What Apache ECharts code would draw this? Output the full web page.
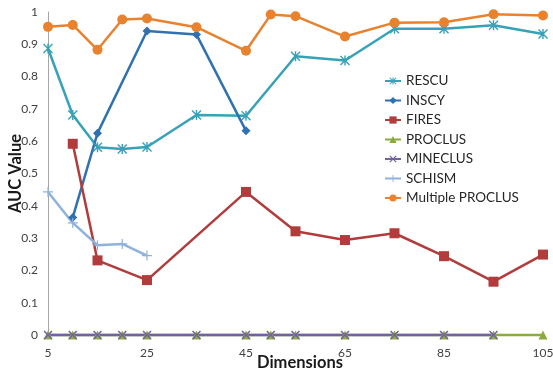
<!DOCTYPE html>
<html>
<head>
<meta charset="utf-8">
<script src="https://cdn.jsdelivr.net/npm/echarts@6/dist/echarts.min.js"></script>
<style>html,body{margin:0;padding:0;background:#fff;}#c{width:553px;height:371px;}</style>
</head>
<body>
<div id="c"></div>
<script>
const xTicks = [5, 25, 45, 65, 85, 105];
const yTicks = [0, 0.1, 0.2, 0.3, 0.4, 0.5, 0.6, 0.7, 0.8, 0.9, 1];

const rescuX = [5, 10, 15, 20, 25, 35, 45, 55, 65, 75, 85, 95, 105];
const rescuY = [0.887, 0.681, 0.581, 0.576, 0.582, 0.681, 0.679, 0.863, 0.850, 0.948, 0.948, 0.959, 0.932];

const inscyX = [10, 15, 25, 35, 45];
const inscyY = [0.364, 0.625, 0.941, 0.930, 0.632];

const firesX = [10, 15, 25, 45, 55, 65, 75, 85, 95, 105];
const firesY = [0.592, 0.231, 0.170, 0.443, 0.321, 0.294, 0.315, 0.244, 0.165, 0.249];

const proclusX = [5, 10, 15, 20, 25, 35, 45, 50, 55, 65, 75, 85, 95, 105];
const proclusY = [0, 0, 0, 0, 0, 0, 0, 0, 0, 0, 0, 0, 0, 0];

const mineclusX = [5, 10, 15, 20, 25, 35, 45, 50, 55, 65, 75, 85, 95];
const mineclusY = [0, 0, 0, 0, 0, 0, 0, 0, 0, 0, 0, 0, 0];

const schismX = [5, 10, 15, 20, 25];
const schismY = [0.443, 0.347, 0.278, 0.282, 0.246];

const multiX = [5, 10, 15, 20, 25, 35, 45, 50, 55, 65, 75, 85, 95, 105];
const multiY = [0.954, 0.960, 0.883, 0.977, 0.980, 0.953, 0.880, 0.992, 0.987, 0.924, 0.967, 0.968, 0.993, 0.989];

const pair = (xs, ys) => xs.map((x, i) => [x, ys[i]]);

const STAR = 'path://M0,1 L1,0 L5,4 L9,0 L10,1 L6,5 L10,9 L9,10 L5,6 L1,10 L0,9 L4,5 Z M4.3,0 L5.7,0 L5.7,10 L4.3,10 Z';
const XMARK = 'path://M0,1.2 L1.2,0 L5,3.8 L8.8,0 L10,1.2 L6.2,5 L10,8.8 L8.8,10 L5,6.2 L1.2,10 L0,8.8 L3.8,5 Z';
const PLUS = 'path://M4.4,0 L5.6,0 L5.6,4.4 L10,4.4 L10,5.6 L5.6,5.6 L5.6,10 L4.4,10 L4.4,5.6 L0,5.6 L0,4.4 L4.4,4.4 Z';

function mk(name, xs, ys, color, symbol, size) {
  return {
    name, type: 'line', data: pair(xs, ys),
    symbol, symbolSize: size,
    lineStyle: { color, width: 2.5 },
    itemStyle: { color },
    emphasis: { disabled: true },
    clip: false,
    animation: false
  };
}

const chart = echarts.init(document.getElementById('c'), null, { renderer: 'canvas' });
chart.setOption({
  backgroundColor: '#fff',
  textStyle: { fontFamily: 'Lato, "Open Sans", sans-serif' },
  grid: { left: 48, right: 10, top: 12, bottom: 36, containLabel: false, outerBoundsMode: 'none' },
  xAxis: {
    type: 'value', min: 5, max: 105,
    name: 'Dimensions', nameLocation: 'middle', nameGap: 19, nameMoveOverlap: false,
    nameTextStyle: { fontSize: 16.5, fontWeight: 'bold', color: '#1a1a1a', fontFamily: 'Lato, sans-serif', padding: [0, 0, 0, 9] },
    axisLine: { show: true, lineStyle: { color: '#a6a6a6', width: 1 } },
    axisTick: { show: false },
    splitLine: { show: false },
    axisLabel: { customValues: xTicks, margin: 12, fontSize: 12, color: '#404040' }
  },
  yAxis: {
    type: 'value', min: 0, max: 1, interval: 0.1,
    name: 'AUC Value', nameLocation: 'middle', nameGap: 24, nameMoveOverlap: false,
    nameTextStyle: { fontSize: 16.5, fontWeight: 'bold', color: '#1a1a1a', fontFamily: 'Lato, sans-serif' },
    axisLine: { show: true, lineStyle: { color: '#a6a6a6', width: 1 } },
    axisTick: { show: false },
    splitLine: { show: false },
    axisLabel: { customValues: yTicks, margin: 10, fontSize: 12, color: '#404040',
      formatter: v => String(Math.round(v * 10) / 10) }
  },
  legend: {
    orient: 'vertical', left: 379, top: 69,
    itemWidth: 16, itemHeight: 9, itemGap: 5.5,
    textStyle: { fontSize: 13.5, color: '#262626' },
    data: ['RESCU', 'INSCY', 'FIRES', 'PROCLUS', 'MINECLUS', 'SCHISM', 'Multiple PROCLUS']
  },
  series: [
    mk('RESCU', rescuX, rescuY, '#36a2b7', STAR, 10),
    mk('INSCY', inscyX, inscyY, '#3072b0', 'diamond', 9),
    mk('FIRES', firesX, firesY, '#b23b3b', 'rect', 10),
    mk('PROCLUS', proclusX, proclusY, '#8bab3f', 'triangle', 9),
    mk('MINECLUS', mineclusX, mineclusY, '#7262a0', XMARK, 9),
    mk('SCHISM', schismX, schismY, '#8fb2dc', PLUS, 10),
    mk('Multiple PROCLUS', multiX, multiY, '#e8822f', 'circle', 10)
  ]
});
</script>
</body>
</html>
